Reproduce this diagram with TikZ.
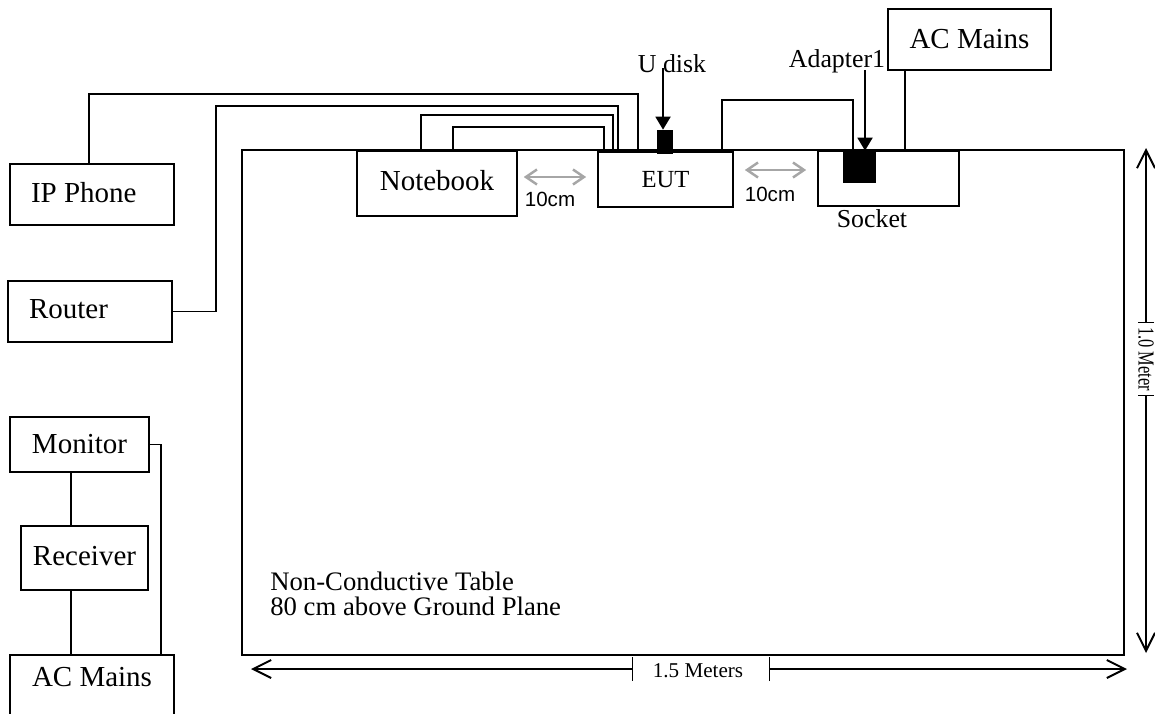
\documentclass[tikz,border=0pt]{standalone}
\usepackage{fontspec}
\setmainfont{Liberation Serif}
\newfontfamily\arialfont{Liberation Sans}
\usetikzlibrary{arrows.meta}

\newcommand{\lefttext}[2]{\raisebox{#1}{\makebox[2.44cm][l]{#2}}}

\begin{document}
\begin{tikzpicture}[
    x=0.02cm, y=-0.02cm,
    every node/.style={inner sep=0pt},
    box/.style={draw, line width=0.9pt, font=\fontsize{16.5}{18}\selectfont},
    leftbox/.style={box, inner xsep=0.42cm, minimum height=1.22cm},
    plugblock/.style={fill=black, minimum width=#1},
    cable/.style={line width=0.9pt},
    plug/.style={line width=1.1pt, -{Triangle[length=2.6mm,width=3mm]}},
    gaparrow/.style={draw=gray!70, line width=1.4pt, {Straight Barb[length=2.2mm,width=3mm]}-{Straight Barb[length=2.2mm,width=3mm]}},
    dimline/.style={line width=0.6pt, {Bar[width=#1]}-{Straight Barb[length=3.6mm,width=3.6mm,line width=1.1pt]}},
    tag/.style={font=\fontsize{14.7}{16}\selectfont},
    gaptag/.style={font=\arialfont\fontsize{11.7}{13}\selectfont}
]
\clip (0,0) rectangle (1155,713);

% Table
\node[draw, line width=1.5pt, minimum width=17.64cm, minimum height=10.1cm] (table) at (683,402.5) {};
\node[anchor=north west, align=left, font=\fontsize{15.2}{14.2}\selectfont] (tablelbl) at (270,572)
    {Non-Conductive Table\\80 cm above Ground Plane};

% On the table
\node[box, minimum width=3.2cm, minimum height=1.3cm] (notebook) at (437,183.5) {\raisebox{3.4pt}{Notebook}};
\node[box, font=\fontsize{14}{16}\selectfont, minimum width=2.7cm, minimum height=1.1cm] (eut) at (665.5,179.5) {EUT};
\node[box, minimum width=2.82cm, minimum height=1.1cm] (socket) at (888.5,178.5) {};
\node[tag] (socketlbl) at (872,219) {Socket};
\node[plugblock=0.32cm, minimum height=0.48cm] (udisk) at (665,142) {};
\node[plugblock=0.66cm, minimum height=0.64cm] (adapter) at (859.5,167) {};

% Off the table
\node[leftbox] (ipphone) at (92,194.5) {\lefttext{2pt}{IP Phone}};
\node[leftbox] (router) at (90,311.5) {\lefttext{2.8pt}{Router}};
\node[box, minimum width=2.78cm, minimum height=1.1cm] (monitor) at (79.5,444.5) {Monitor};
\node[box, minimum width=2.54cm, minimum height=1.28cm] (receiver) at (84.5,558) {\raisebox{2.5pt}{Receiver}};
\node[box, anchor=north, minimum width=3.28cm, inner ysep=0.26cm, text depth=1cm] (acmainsB) at (92,654) {AC Mains};
\node[box, minimum width=3.26cm, minimum height=1.22cm] (acmainsT) at (969.5,39.5) {AC Mains};

% Cables
\draw[cable] (ipphone.north -| 89,0) |- (638,94) -- (638,0 |- eut.north);
\draw[cable] (router.east) -| (216,106) -| (618,0 |- eut.north);
\draw[cable] (notebook.north -| 421,0) |- (613,115) -- (613,0 |- eut.north);
\draw[cable] (notebook.north -| 453,0) |- (604,127) -- (604,0 |- eut.north);
\draw[cable] (eut.north -| 722,0) |- (853,100) -- (853,0 |- socket.north);
\draw[cable] (acmainsT.south -| 905,0) -- (905,0 |- table.north);
\draw[cable] (monitor.south -| 71,0) -- (71,0 |- receiver.north);
\draw[cable] (receiver.south -| 71,0) -- (71,0 |- acmainsB.north);
\draw[cable] (monitor.east) -| (161,0 |- acmainsB.north);

% U disk and adapter
\node[tag] (udlbl) at (672,64) {U disk};
\node[tag] (adlbl) at (837,61) {Adapter1};
\coordinate (udtip) at (663,68);
\coordinate (adtip) at (865,70);
\draw[plug] (udtip) -- (udtip |- udisk.north);
\draw[plug] (adtip) -- (adtip |- adapter.north);

% 10cm spacing
\draw[gaparrow, shorten <=3.4pt, shorten >=6.3pt] (notebook.east |- 0,177) -- (eut.west |- 0,177);
\draw[gaparrow, shorten <=6.3pt, shorten >=6.3pt] (eut.east |- 0,170) -- (socket.west |- 0,170);
\node[gaptag] (gap1) at (550,199.5) {10cm};
\node[gaptag] (gap2) at (770,194.5) {10cm};

% Table size
\node[font=\fontsize{12}{14}\selectfont] (wlbl) at (698,670.5) {1.5 Meters};
\coordinate (wleft) at (633,669);
\coordinate (wright) at (769,669);
\draw[dimline=0.48cm] (wleft) -- (251,669);
\draw[dimline=0.48cm] (wright) -- (1127,669);
\node[rotate=-90, font=\fontsize{13}{15}\selectfont] (hlbl) at (1146,359) {\scalebox{0.72}[1]{1.0 Meter}};
\coordinate (htop) at (1146,323);
\coordinate (hbot) at (1146,395);
\draw[dimline=0.32cm] (htop) -- (1146,148);
\draw[dimline=0.32cm] (hbot) -- (1146,653);

\end{tikzpicture}
\end{document}
